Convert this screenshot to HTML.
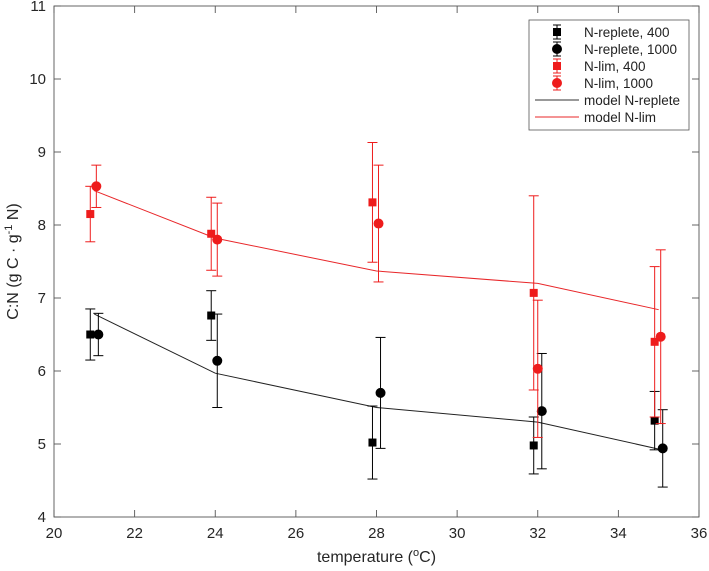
<!DOCTYPE html>
<html><head><meta charset="utf-8"><style>
body{margin:0;background:#fff;}
svg{display:block;font-family:"Liberation Sans",Arial,sans-serif;}
</style></head><body>
<svg id="chart" width="709" height="571"></svg>
<script>
const xTicks=[20,22,24,26,28,30,32,34,36];
const yTicks=[4,5,6,7,8,9,10,11];
const repX400=[20.9,23.9,27.9,31.9,34.9];
const repY400=[6.5,6.76,5.02,4.98,5.32];
const repE400=[0.35,0.34,0.5,0.39,0.4];
const repX1000=[21.1,24.05,28.1,32.1,35.1];
const repY1000=[6.5,6.14,5.7,5.45,4.94];
const repE1000=[0.29,0.64,0.76,0.79,0.53];
const limX400=[20.9,23.9,27.9,31.9,34.9];
const limY400=[8.15,7.88,8.31,7.07,6.4];
const limE400=[0.38,0.5,0.82,1.33,1.03];
const limX1000=[21.05,24.05,28.05,32.0,35.05];
const limY1000=[8.53,7.8,8.02,6.03,6.47];
const limE1000=[0.29,0.5,0.8,0.94,1.19];
const modelX=[21,24,28,32,35];
const modelRep=[6.78,5.97,5.5,5.3,4.93];
const modelLim=[8.47,7.82,7.37,7.2,6.84];

const L=54,R=699,T=6,B=517;
const sx=v=>L+(v-20)/16*(R-L);
const sy=v=>B-(v-4)/7*(B-T);
const svg=document.getElementById('chart');
const NS='http://www.w3.org/2000/svg';
function mk(tag,attrs,parent){const e=document.createElementNS(NS,tag);for(const k in attrs)e.setAttribute(k,attrs[k]);(parent||svg).appendChild(e);return e;}

const frame=mk('rect',{x:L,y:T,width:R-L,height:B-T,fill:'none',stroke:'#555','stroke-width':0.9});


xTicks.forEach(t=>{
  const x=sx(t);
  mk('line',{x1:x,x2:x,y1:B,y2:B-7,stroke:'#555','stroke-width':0.9});
  mk('line',{x1:x,x2:x,y1:T,y2:T+7,stroke:'#555','stroke-width':0.9});
  const tx=mk('text',{x:x,y:B+21,'text-anchor':'middle','font-size':15,fill:'#262626'});
  tx.textContent=t;
  
  
});
yTicks.forEach(t=>{
  const y=sy(t);
  mk('line',{x1:L,x2:L+7,y1:y,y2:y,stroke:'#555','stroke-width':0.9});
  mk('line',{x1:R,x2:R-7,y1:y,y2:y,stroke:'#555','stroke-width':0.9});
  const tx=mk('text',{x:L-8,y:y+5,'text-anchor':'end','font-size':15,fill:'#262626'});
  tx.textContent=t;
  
  
});
const xl=mk('text',{x:(L+R)/2,y:562,'text-anchor':'middle','font-size':16,fill:'#262626'});
xl.innerHTML='temperature (<tspan dy="-6" font-size="11">o</tspan><tspan dy="6">C)</tspan>';


const yl=mk('text',{x:0,y:0,'text-anchor':'middle','font-size':16,fill:'#262626',transform:`translate(18,${(T+B)/2}) rotate(-90)`});
yl.innerHTML='C:N (g C · g<tspan dy="-6" font-size="11">-1</tspan><tspan dy="6"> N)</tspan>';



function line(xs,ys,color,name){
  const p=mk('polyline',{points:xs.map((x,i)=>sx(x)+','+sy(ys[i])).join(' '),fill:'none',stroke:color,'stroke-width':1});
  
  
}
line(modelX,modelRep,'#222','model-n-replete-line');
line(modelX,modelLim,'#e8272a','model-n-lim-line');

function series(xs,ys,es,color,shape,name){
  const g=mk('g',{});
  
  
  xs.forEach((xv,i)=>{
    const x=sx(xv),y=sy(ys[i]),y1=sy(ys[i]+es[i]),y2=sy(ys[i]-es[i]);
    mk('line',{x1:x,x2:x,y1:y1,y2:y2,stroke:color,'stroke-width':1},g);
    mk('line',{x1:x-5,x2:x+5,y1:y1,y2:y1,stroke:color,'stroke-width':1},g);
    mk('line',{x1:x-5,x2:x+5,y1:y2,y2:y2,stroke:color,'stroke-width':1},g);
    let m;
    if(shape==='s')m=mk('rect',{x:x-4,y:y-4,width:8,height:8,fill:color},g);
    else m=mk('circle',{cx:x,cy:y,r:5,fill:color},g);
    
    
  });
}
series(repX400,repY400,repE400,'#000','s','n-replete-400');
series(repX1000,repY1000,repE1000,'#000','c','n-replete-1000');
series(limX400,limY400,limE400,'#ee1c1c','s','n-lim-400');
series(limX1000,limY1000,limE1000,'#ee1c1c','c','n-lim-1000');

const lg=mk('g',{});


mk('rect',{x:529,y:20,width:160,height:110,fill:'#fff',stroke:'#555','stroke-width':0.8},lg);
const entries=[['N-replete, 400','#000','s'],['N-replete, 1000','#000','c'],['N-lim, 400','#ee1c1c','s'],['N-lim, 1000','#ee1c1c','c'],['model N-replete','#333','l'],['model N-lim','#e8272a','l']];
entries.forEach((e,i)=>{
  const y=32+i*17;
  const cx=557;
  if(e[2]==='l'){mk('line',{x1:535,x2:579,y1:y,y2:y,stroke:e[1],'stroke-width':1},lg);}
  else{
    mk('line',{x1:cx,x2:cx,y1:y-7,y2:y+7,stroke:e[1]},lg);
    mk('line',{x1:cx-4,x2:cx+4,y1:y-7,y2:y-7,stroke:e[1]},lg);
    mk('line',{x1:cx-4,x2:cx+4,y1:y+7,y2:y+7,stroke:e[1]},lg);
    if(e[2]==='s')mk('rect',{x:cx-4,y:y-4,width:8,height:8,fill:e[1]},lg);
    else mk('circle',{cx:cx,cy:y,r:5,fill:e[1]},lg);
  }
  const t=mk('text',{x:584,y:y+5,'font-size':13.5,fill:'#222'},lg);
  t.textContent=e[0];
  
  
});
</script>
</body></html>
